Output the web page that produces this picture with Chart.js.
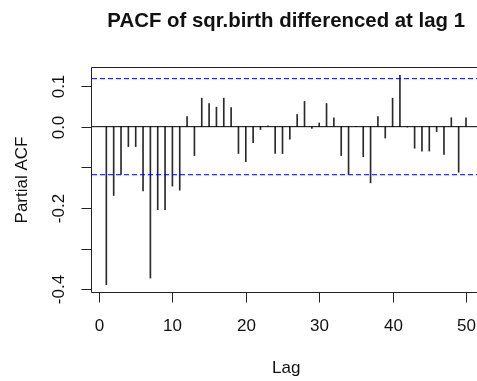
<!DOCTYPE html>
<html>
<head>
<meta charset="utf-8">
<script src="https://cdn.jsdelivr.net/npm/chart.js@4/dist/chart.umd.min.js"></script>
<style>
html,body{margin:0;padding:0;background:#fff;overflow:hidden;}
canvas{display:block;}
</style>
</head>
<body>
<canvas id="c" width="477" height="381"></canvas>
<script>
// ---- data ----
const lags = [1,2,3,4,5,6,7,8,9,10,11,12,13,14,15,16,17,18,19,20,21,22,23,24,25,26,27,28,29,30,31,32,33,34,35,36,37,38,39,40,41,42,43,44,45,46,47,48,49,50];
const pacf = [-0.388,-0.169,-0.117,-0.049,-0.049,-0.158,-0.372,-0.204,-0.204,-0.146,
              -0.156,0.025,-0.071,0.070,0.057,0.048,0.070,0.047,-0.066,-0.086,
              -0.039,-0.007,0.002,-0.066,-0.066,-0.031,0.030,0.062,-0.004,0.009,
              0.057,0.022,-0.071,-0.117,0.001,-0.074,-0.138,0.025,-0.028,0.070,
              0.126,-0.001,-0.053,-0.060,-0.060,-0.012,-0.068,0.022,-0.112,0.022];
const ciLimit = 0.118;
const xTickValues = [0,10,20,30,40,50];
const xTickLabels = ['0','10','20','30','40','50'];
const yTickValues = [-0.4,-0.3,-0.2,-0.1,0.0,0.1];
const yTickLabels = ['-0.4','','-0.2','','0.0','0.1'];
const titleText = 'PACF of sqr.birth differenced at lag 1';
const xTitle = 'Lag';
const yTitle = 'Partial ACF';

// ---- layout ----
const XMIN = -0.954, XMAX = 51.5;
const YMIN = -0.4086, YMAX = 0.1466;
const FONT = '"Liberation Sans", Arial, sans-serif';

const barData = lags.map((l,i)=>({x:l,y:pacf[i]}));

const axesPlugin = {
  id:'rAxes',
  afterDatasetsDraw(chart){
    const ctx = chart.ctx, a = chart.chartArea;
    const xs = chart.scales.x, ys = chart.scales.y;
    ctx.save();
    // box (top, left, bottom; right edge is cropped)
    ctx.strokeStyle = '#222'; ctx.lineWidth = 1;
    ctx.beginPath();
    ctx.moveTo(a.right+2, a.top+0.5); ctx.lineTo(a.left-0.5, a.top+0.5);
    ctx.lineTo(a.left-0.5, a.bottom-0.5); ctx.lineTo(a.right+2, a.bottom-0.5);
    ctx.stroke();
    // x ticks
    ctx.fillStyle = '#111';
    ctx.font = '17px ' + FONT;
    ctx.textAlign = 'center'; ctx.textBaseline = 'alphabetic';
    xTickValues.forEach((v,i)=>{
      const px = Math.round(xs.getPixelForValue(v)) + 0.5;
      ctx.beginPath(); ctx.moveTo(px, a.bottom-0.5); ctx.lineTo(px, a.bottom+9.5); ctx.stroke();
      ctx.fillText(xTickLabels[i], px, 331);
    });
    // y ticks
    yTickValues.forEach((v,i)=>{
      const py = Math.round(ys.getPixelForValue(v)) + 0.5;
      ctx.beginPath(); ctx.moveTo(a.left-0.5, py); ctx.lineTo(a.left-10.5, py); ctx.stroke();
      if (yTickLabels[i]) {
        ctx.save();
        ctx.translate(64, py);
        ctx.rotate(-Math.PI/2);
        ctx.fillText(yTickLabels[i], 0, 0);
        ctx.restore();
      }
    });
    // axis titles
    ctx.fillText(xTitle, (a.left + xs.getPixelForValue(51.96))/2, 373);
    ctx.save();
    ctx.translate(27, (a.top + a.bottom)/2);
    ctx.rotate(-Math.PI/2);
    ctx.fillText(yTitle, 0, 0);
    ctx.restore();
    // title
    ctx.font = 'bold 20.4px ' + FONT;
    ctx.fillText(titleText, (a.left + xs.getPixelForValue(51.96))/2, 27);
    ctx.restore();
  }
};

new Chart(document.getElementById('c'), {
  type:'bar',
  data:{
    datasets:[
      {type:'bar', data:barData, backgroundColor:'#2a2a2a', barThickness:1, grouped:false, order:3},
      {type:'line', data:[{x:XMIN,y:0},{x:XMAX,y:0}], borderColor:'#000', borderWidth:1, pointRadius:0, order:2},
      {type:'line', data:[{x:XMIN,y:ciLimit},{x:XMAX,y:ciLimit}], borderColor:'#0000ff', borderWidth:1, borderDash:[5,3], pointRadius:0, order:1},
      {type:'line', data:[{x:XMIN,y:-ciLimit},{x:XMAX,y:-ciLimit}], borderColor:'#0000ff', borderWidth:1, borderDash:[5,3], pointRadius:0, order:1}
    ]
  },
  options:{
    responsive:false, animation:false, devicePixelRatio:1,
    layout:{padding:{left:92, top:67, right:0, bottom:88}},
    plugins:{legend:{display:false}, tooltip:{enabled:false}, title:{display:false}},
    scales:{
      x:{type:'linear', min:XMIN, max:XMAX, display:false, offset:false},
      y:{type:'linear', min:YMIN, max:YMAX, display:false}
    }
  },
  plugins:[axesPlugin]
});
</script>
</body>
</html>
